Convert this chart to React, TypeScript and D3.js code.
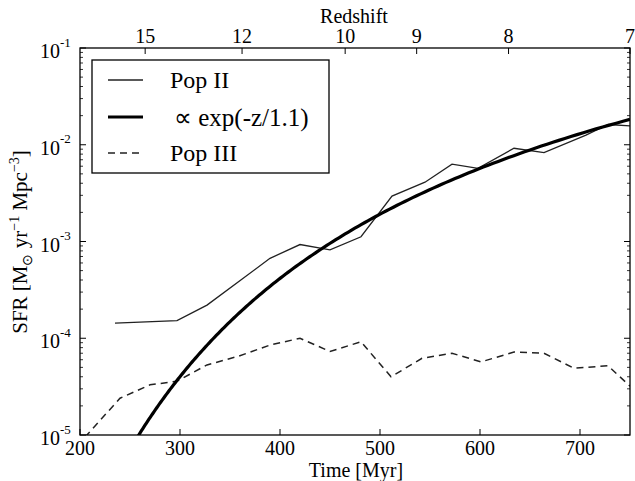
import React from "react";
import * as d3 from "d3";

// ---- data ----
const popIITime = [235, 297, 327, 390, 420, 450, 481, 512, 545, 572, 598, 634, 664, 706, 728, 750];
const popIISFR = [1.43e-4, 1.52e-4, 2.2e-4, 6.7e-4, 9.3e-4, 8.2e-4, 1.12e-3, 2.95e-3, 4.1e-3, 6.3e-3, 5.7e-3, 9.2e-3, 8.3e-3, 1.26e-2, 1.62e-2, 1.57e-2];

const popIIITime = [205, 240, 270, 297, 327, 358, 390, 420, 450, 481, 511, 542, 572, 601, 634, 664, 694, 728, 750];
const popIIISFR = [9.5e-6, 2.4e-5, 3.3e-5, 3.6e-5, 5.3e-5, 6.5e-5, 8.5e-5, 1.0e-4, 7.3e-5, 9.2e-5, 4.0e-5, 6.2e-5, 7.0e-5, 5.7e-5, 7.2e-5, 7.0e-5, 4.9e-5, 5.2e-5, 3.2e-5];

// model curve: SFR ∝ exp(-z/1.1), amplitude read at z = 7
const fitAmplitudeAtZ7 = 0.0183;
const fitScale = 1.1;

const timeTicks = [200, 300, 400, 500, 600, 700];
const redshiftTicks = [15, 12, 10, 9, 8, 7];
const sfrDecades = [-5, -4, -3, -2, -1];
const legendLabels = ["Pop II", "\u221D exp(-z/1.1)", "Pop III"];

// time (Myr) at a given redshift, anchored at z=7 -> 750 Myr
const timeAtZ = (z: number) => 750 * Math.pow(8 / (1 + z), 1.5);

const W = 635, H = 481;
const L = 80, R = 630, T = 48, B = 435;
const FONT = "'Liberation Serif', 'Times New Roman', serif";

export default function App() {
  const x = d3.scaleLinear().domain([200, 750]).range([L, R]);
  const y = d3.scaleLog().domain([1e-5, 1e-1]).range([B, T]);

  const line = d3.line<[number, number]>().x(d => x(d[0])).y(d => y(d[1]));
  const popII = line(popIITime.map((t, i) => [t, popIISFR[i]] as [number, number]));
  const popIII = line(popIIITime.map((t, i) => [t, popIIISFR[i]] as [number, number]));

  const zs = d3.range(7, 16.5, 0.05);
  const fitPts = zs.map(z => [timeAtZ(z), fitAmplitudeAtZ7 * Math.exp(-(z - 7) / fitScale)] as [number, number]);
  const fit = line(fitPts);

  const minor: number[] = [];
  for (let e = -5; e < -1; e++) for (let m = 2; m <= 9; m++) minor.push(m * Math.pow(10, e));

  const legendX = 92, legendY = 60, legendW = 237, legendH = 113;
  const rows = [80, 117, 153];

  return (
    <div style={{ position: "absolute", left: 0, top: 0 }}>
      <svg width={W} height={H} style={{ display: "block", background: "#fff" }}>
        <defs>
          <clipPath id="plotclip">
            <rect x={L} y={T} width={R - L} height={B - T} />
          </clipPath>
        </defs>
        <rect x={0} y={0} width={W} height={H} fill="#fff" />

        <g clipPath="url(#plotclip)" fill="none">
          <path d={popIII ?? ""} stroke="#222" strokeWidth={1.5} strokeDasharray="7,5" />
          <path d={popII ?? ""} stroke="#222" strokeWidth={1.3} />
          <path d={fit ?? ""} stroke="#000" strokeWidth={3.2} />
        </g>

        {/* frame */}
        <rect x={L} y={T} width={R - L} height={B - T} fill="none" stroke="#000" strokeWidth={1.3} />

        {/* y ticks */}
        {sfrDecades.map(e => (
          <g key={e}>
            <line x1={L} x2={L + 6} y1={y(Math.pow(10, e))} y2={y(Math.pow(10, e))} stroke="#000" strokeWidth={1} />
            <line x1={R} x2={R - 6} y1={y(Math.pow(10, e))} y2={y(Math.pow(10, e))} stroke="#000" strokeWidth={1} />
            <text x={60} y={y(Math.pow(10, e)) + 3} textAnchor="end" dominantBaseline="central" fontFamily={FONT} fontSize={20}>10</text>
            <text x={60} y={y(Math.pow(10, e)) - 6} textAnchor="start" dominantBaseline="central" fontFamily={FONT} fontSize={13}>{`-${-e}`}</text>
          </g>
        ))}
        {minor.map((v, i) => (
          <g key={i}>
            <line x1={L} x2={L + 3} y1={y(v)} y2={y(v)} stroke="#000" strokeWidth={0.8} />
            <line x1={R} x2={R - 3} y1={y(v)} y2={y(v)} stroke="#000" strokeWidth={0.8} />
          </g>
        ))}

        {/* bottom ticks */}
        {timeTicks.map(t => (
          <g key={t}>
            <line x1={x(t)} x2={x(t)} y1={B} y2={B - 6} stroke="#000" strokeWidth={1} />
            <text x={x(t)} y={455} textAnchor="middle" fontFamily={FONT} fontSize={20}>{t}</text>
          </g>
        ))}
        <text x={356} y={477} textAnchor="middle" fontFamily={FONT} fontSize={20}>Time [Myr]</text>

        {/* top redshift ticks */}
        {redshiftTicks.map(z => (
          <g key={z}>
            <line x1={x(timeAtZ(z))} x2={x(timeAtZ(z))} y1={T} y2={T + 6} stroke="#000" strokeWidth={1} />
            <text x={x(timeAtZ(z))} y={43} textAnchor="middle" fontFamily={FONT} fontSize={20}>{z}</text>
          </g>
        ))}
        <text x={354} y={23} textAnchor="middle" fontFamily={FONT} fontSize={20}>Redshift</text>

        {/* y label */}
        <text transform={`translate(27, 242) rotate(-90)`} textAnchor="middle" fontFamily={FONT} fontSize={21}>
          SFR [M<tspan fontSize={14} dy={5}>{"\u2299"}</tspan><tspan dy={-5}> yr</tspan>
          <tspan fontSize={14} dy={-8}>{"\u22121"}</tspan><tspan dy={8}> Mpc</tspan>
          <tspan fontSize={14} dy={-8}>{"\u22123"}</tspan><tspan dy={8}>]</tspan>
        </text>

        {/* legend */}
        <rect x={legendX} y={legendY} width={legendW} height={legendH} fill="#fff" stroke="#000" strokeWidth={1.3} />
        <line x1={108} x2={143} y1={rows[0]} y2={rows[0]} stroke="#222" strokeWidth={1.3} />
        <line x1={108} x2={143} y1={rows[1]} y2={rows[1]} stroke="#000" strokeWidth={3.2} />
        <line x1={108} x2={143} y1={rows[2]} y2={rows[2]} stroke="#222" strokeWidth={1.5} strokeDasharray="7,5" />
        {legendLabels.map((lab, i) => (
          <text key={lab} x={i === 1 ? 174 : 170} y={rows[i]} dominantBaseline="central" fontFamily={FONT} fontSize={i === 1 ? 25 : 24}>{lab}</text>
        ))}
      </svg>
    </div>
  );
}
